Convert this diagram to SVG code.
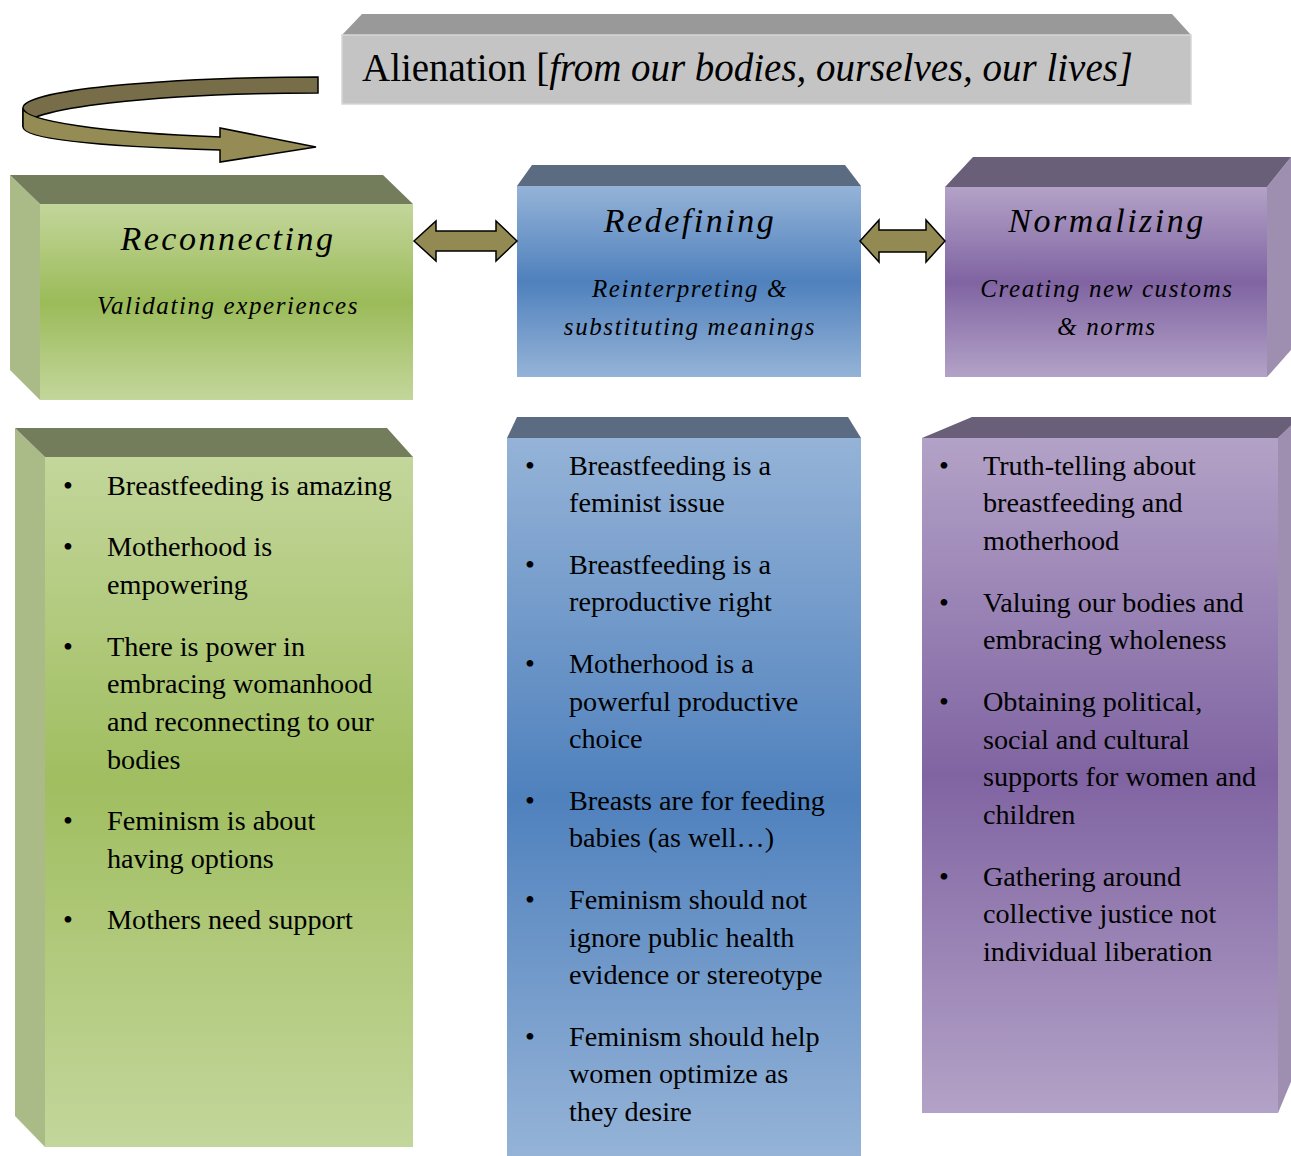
<svg xmlns="http://www.w3.org/2000/svg" width="1291" height="1156" viewBox="0 0 1291 1156">
<defs>
<linearGradient id="gGreen" x1="0" y1="0" x2="0" y2="1"><stop offset="0" stop-color="#c3d69b"/><stop offset="0.5" stop-color="#9bbb59"/><stop offset="1" stop-color="#c3d69b"/></linearGradient>
<linearGradient id="gGreenL" x1="0" y1="0" x2="0" y2="1"><stop offset="0" stop-color="#c3d69b"/><stop offset="0.47" stop-color="#a0be60"/><stop offset="1" stop-color="#c3d69b"/></linearGradient>
<linearGradient id="gBlue" x1="0" y1="0" x2="0" y2="1"><stop offset="0" stop-color="#95b3d7"/><stop offset="0.5" stop-color="#4f81bd"/><stop offset="1" stop-color="#95b3d7"/></linearGradient>
<linearGradient id="gPurple" x1="0" y1="0" x2="0" y2="1"><stop offset="0" stop-color="#b3a2c7"/><stop offset="0.5" stop-color="#8064a2"/><stop offset="1" stop-color="#b3a2c7"/></linearGradient>
<style>
.t{font-family:"Liberation Serif","Times New Roman",serif;fill:#000;}
.body{font-size:28.2px;}
.hd{font-size:34px;font-style:italic;letter-spacing:2.5px;text-anchor:middle;}
.sub{font-size:25px;font-style:italic;letter-spacing:1.6px;text-anchor:middle;}
.olive{fill:#938953;stroke:#000;stroke-width:1.5;stroke-linejoin:miter;}
</style>
</defs>

<g id="alienation">
<polygon points="342,35 362,14 1172,14 1191,35" fill="#999999"/>
<rect x="342" y="35" width="849" height="69" fill="#c4c4c4" stroke="#d6d6d6" stroke-width="1.5"/>
<text class="t" x="362" y="81" font-size="39" textLength="771" lengthAdjust="spacingAndGlyphs">Alienation [<tspan font-style="italic">from our bodies, ourselves, our lives]</tspan></text>
</g>

<g id="reconnecting">
<polygon points="10,175 40,204 40,400 10,370" fill="#abbb88"/>
<polygon points="10,175 383,175 413,204 40,204" fill="#747d5b"/>
<rect x="40" y="204" width="373" height="196" fill="url(#gGreen)"/>
<text class="t hd" x="228" y="250">Reconnecting</text>
<text class="t sub" x="228" y="314">Validating experiences</text>
</g>

<g id="redefining">
<polygon points="517,186 532,165 845,165 861,186" fill="#5b6b82"/>
<rect x="517" y="186" width="344" height="191" fill="url(#gBlue)"/>
<text class="t hd" x="690" y="232">Redefining</text>
<text class="t sub" x="690" y="297">Reinterpreting &amp;</text>
<text class="t sub" x="690" y="335">substituting meanings</text>
</g>

<g id="normalizing">
<polygon points="1267,187 1291,157 1291,350 1267,377" fill="#9e8fb1"/>
<polygon points="945,187 973,157 1291,157 1267,187" fill="#6a5f78"/>
<rect x="945" y="187" width="322" height="190" fill="url(#gPurple)"/>
<text class="t hd" x="1107" y="232">Normalizing</text>
<text class="t sub" x="1107" y="297">Creating new customs</text>
<text class="t sub" x="1107" y="335">&amp; norms</text>
</g>

<g id="reconnecting-list">
<polygon points="15,428 45,457 45,1147 15,1116" fill="#abbb88"/>
<polygon points="15,428 387,428 413,457 45,457" fill="#747d5b"/>
<rect x="45" y="457" width="368" height="690" fill="url(#gGreenL)"/>
<g class="t body">
<text x="63" y="495">•</text><text x="107" y="495">Breastfeeding is amazing</text>
<text x="63" y="556">•</text><text x="107" y="556">Motherhood is</text><text x="107" y="594">empowering</text>
<text x="63" y="656">•</text><text x="107" y="656">There is power in</text><text x="107" y="693">embracing womanhood</text><text x="107" y="731">and reconnecting to our</text><text x="107" y="769">bodies</text>
<text x="63" y="830">•</text><text x="107" y="830">Feminism is about</text><text x="107" y="868">having options</text>
<text x="63" y="929">•</text><text x="107" y="929">Mothers need support</text>
</g>
</g>

<g id="redefining-list">
<polygon points="507,438 517,417 848,417 861,438" fill="#5b6b82"/>
<rect x="507" y="438" width="354" height="718" fill="url(#gBlue)"/>
<g class="t body">
<text x="525" y="475">•</text><text x="569" y="475">Breastfeeding is a</text><text x="569" y="512">feminist issue</text>
<text x="525" y="574">•</text><text x="569" y="574">Breastfeeding is a</text><text x="569" y="611">reproductive right</text>
<text x="525" y="673">•</text><text x="569" y="673">Motherhood is a</text><text x="569" y="711">powerful productive</text><text x="569" y="748">choice</text>
<text x="525" y="810">•</text><text x="569" y="810">Breasts are for feeding</text><text x="569" y="847">babies (as well…)</text>
<text x="525" y="909">•</text><text x="569" y="909">Feminism should not</text><text x="569" y="947">ignore public health</text><text x="569" y="984">evidence or stereotype</text>
<text x="525" y="1046">•</text><text x="569" y="1046">Feminism should help</text><text x="569" y="1083">women optimize as</text><text x="569" y="1121">they desire</text>
</g>
</g>

<g id="normalizing-list">
<polygon points="1278,438 1300,417 1300,1060 1278,1113" fill="#9e8fb1"/>
<polygon points="922,438 972,417 1300,417 1278,438" fill="#6a5f78"/>
<rect x="922" y="438" width="356" height="675" fill="url(#gPurple)"/>
<g class="t body">
<text x="939" y="475">•</text><text x="983" y="475">Truth-telling about</text><text x="983" y="512">breastfeeding and</text><text x="983" y="550">motherhood</text>
<text x="939" y="612">•</text><text x="983" y="612">Valuing our bodies and</text><text x="983" y="649">embracing wholeness</text>
<text x="939" y="711">•</text><text x="983" y="711">Obtaining political,</text><text x="983" y="749">social and cultural</text><text x="983" y="786">supports for women and</text><text x="983" y="824">children</text>
<text x="939" y="886">•</text><text x="983" y="886">Gathering around</text><text x="983" y="923">collective justice not</text><text x="983" y="961">individual liberation</text>
</g>
</g>

<g id="connectors">
<path d="M318,77 A295,31 0 0,0 23,108 L23,127 A295,34 0 0,1 318,93 Z" fill="#776e49" stroke="#000" stroke-width="1.5"/>
<path d="M23,108 A295,31 0 0,0 220,137 L220,128 L316,147 L220,162 L220,150 C120,147 23,141 23,127 Z" fill="#958b54" stroke="#000" stroke-width="1.5"/>
<polygon class="olive" points="414,241 436,221 436,231 496,231 496,221 517,241 496,261 496,251 436,251 436,261"/>
<polygon class="olive" points="860,241 879,220 879,230 926,230 926,220 945,241 926,262 926,252 879,252 879,262"/>
</g>
</svg>
